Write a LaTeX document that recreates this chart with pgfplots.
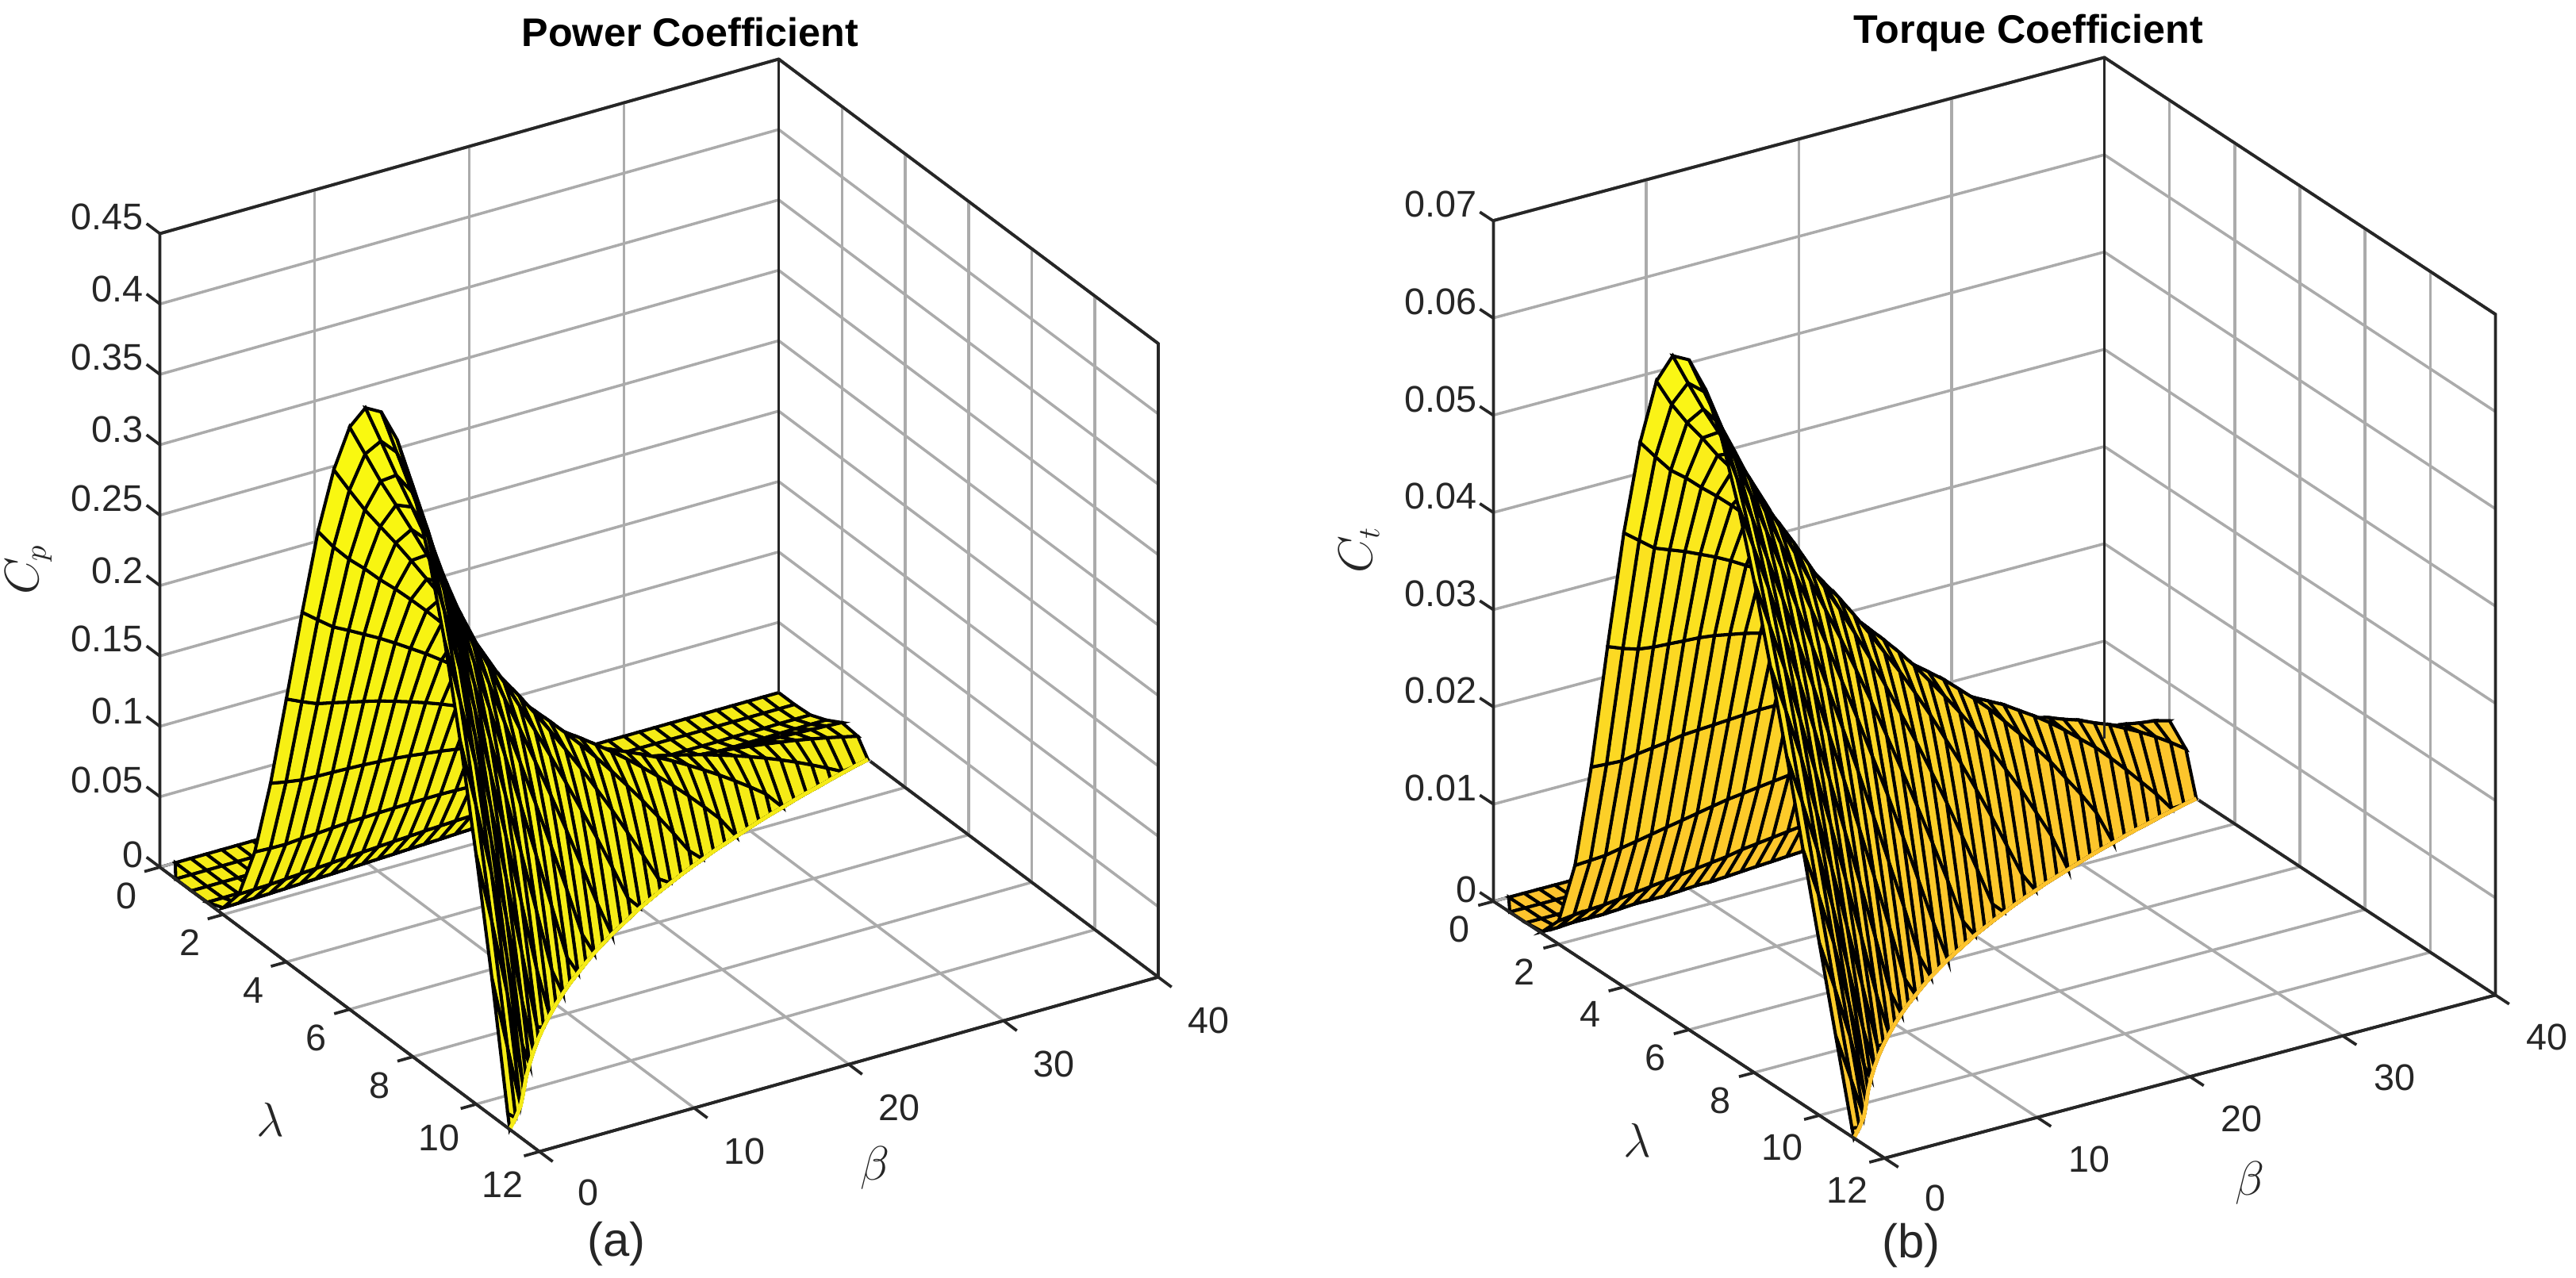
\documentclass[border=0pt]{standalone}
\usepackage{fontspec}
\setmainfont{Liberation Sans}
\usepackage{pgfplots}
\pgfplotsset{compat=1.18}
\definecolor{axcol}{rgb}{0.15,0.15,0.15}
\definecolor{lowl}{RGB}{245,235,22}
\definecolor{lowr}{RGB}{253,195,45}
\pgfplotsset{
  panel/.style={
    disabledatascaling,
    anchor=origin,
    xmin=0,xmax=12,ymin=0,ymax=40,zmin=0,
    xtick={0,2,...,12},ytick={0,10,...,40},
    grid=major,
    major grid style={draw=gray!66,line width=1pt},
    axis line style={draw=axcol,line width=1.05pt},
    tick style={draw=none},
    tick align=outside,
    tick pos=left,
    major tick length=5.6pt,
    scaled ticks=false,
    tick label style={font=\fontsize{13.3}{16}\selectfont,text=axcol},
    yticklabel style={xshift=0.3cm,yshift=-0.08cm},
    zticklabel style={xshift=0.1cm,yshift=0.16cm},
    /pgf/number format/assume math mode=true,
    /pgf/number format/fixed,
    /pgf/number format/precision=2,
    clip=false,
  },
  skin/.style={surf,shader=faceted,z buffer=sort,faceted color=black,line width=1.15pt,mesh/cols=24},
}
\newcommand{\tickmarks}[2]{%
  \pgfplotsinvokeforeach{0,2,...,12}{\draw[axcol,line width=1.05pt] (axis cs:##1,0,0) -- (axis cs:##1,-1,0);}
  \pgfplotsinvokeforeach{0,10,...,40}{\draw[axcol,line width=1.05pt] (axis cs:12,##1,0) -- (axis cs:12.42,##1,0);}
  \pgfplotsinvokeforeach{#1}{\draw[axcol,line width=1.05pt] (axis cs:0,0,##1) -- (axis cs:-0.42,0,##1);}
  \draw[axcol,line width=1.05pt] (axis cs:0,0,0) -- (axis cs:0,0,#2) -- (axis cs:0,40,#2) -- (axis cs:12,40,#2) -- (axis cs:12,40,0) -- (axis cs:12,0,0) -- (axis cs:0,0,0);
  \draw[axcol,line width=1.05pt] (axis cs:0,40,0) -- (axis cs:0,40,#2);
  \draw[axcol,line width=1.05pt] (axis cs:2.9,40,0) -- (axis cs:12,40,0);
}
\begin{document}
\begin{tikzpicture}
\path[use as bounding box] (0,0) rectangle (32.47,16.10);
\begin{axis}[panel,at={(2.015cm,5.169cm)},
  x={(0.3987cm,-0.2988cm)},y={(0.195cm,0.055cm)},z={(0cm,17.747cm)},
  zmax=0.45,ztick={0,0.05,...,0.45},
  colormap={leftmap}{rgb255=(245,235,22) rgb255=(250,250,15)}]
\addplot3[skin] table {
.5 0 0
.5 0 0
1 0 0
1.5 0 .0003
2 0 .0048
2.5 0 .0229
3 0 .0613
3.5 0 .1185
4 0 .1868
4.5 0 .2568
5 0 .3227
5.5 0 .3749
6 0 .4136
6.5 0 .4357
7 0 .4412
7.5 0 .43
8 0 .4036
8.5 0 .364
9 0 .3125
9.5 0 .249
10 0 .177
10.5 0 .0976
11 0 .0101
11.06 0 0
0 1 0
.5 1 0
1 1 0
1.5 1 .0003
2 1 .0051
2.5 1 .0232
3 1 .0608
3.5 1 .1164
4 1 .1818
4.5 1 .2484
5 1 .3086
5.5 1 .3573
6 1 .3914
6.5 1 .409
7 1 .4095
7.5 1 .3945
8 1 .365
8.5 1 .322
9 1 .2666
9.5 1 .201
10 1 .127
10.5 1 .0457
10.76 1 0
10.76 1 0
0 2 0
.5 2 0
1 2 0
1.5 2 .0004
2 2 .0053
2.5 2 .0236
3 2 .0606
3.5 2 .1147
4 2 .1773
4.5 2 .2402
5 2 .2968
5.5 2 .3403
6 2 .369
6.5 2 .3817
7 2 .378
7.5 2 .359
8 2 .3255
8.5 2 .278
9 2 .219
9.5 2 .15
10 2 .0729
10.43 2 0
10.43 2 0
10.43 2 0
0 3 0
.5 3 0
1 3 0
1.5 3 .0004
2 3 .0056
2.5 3 .0243
3 3 .0615
3.5 3 .1142
4 3 .1749
4.5 3 .2347
5 3 .287
5.5 3 .3253
6 3 .349
6.5 3 .356
7 3 .346
7.5 3 .3207
8 3 .2805
8.5 3 .227
9 3 .162
9.5 3 .0875
10 3 .006
10.03 3 0
10.03 3 0
10.03 3 0
0 4 0
.5 4 0
1 4 0
1.5 4 .0005
2 4 .006
2.5 4 .0251
3 4 .062
3.5 4 .1139
4 4 .1722
4.5 4 .2288
5 4 .2761
5.5 4 .3105
6 4 .3286
6.5 4 .3293
7 4 .3133
7.5 4 .281
8 4 .2344
8.5 4 .174
9 4 .103
9.5 4 .0214
9.62 4 0
9.62 4 0
9.62 4 0
9.62 4 0
0 5 0
.5 5 0
1 5 0
1.5 5 .0006
2 5 .0064
2.5 5 .0258
3 5 .0628
3.5 5 .1135
4 5 .1696
4.5 5 .2229
5 5 .2663
5.5 5 .2949
6 5 .3074
6.5 5 .302
7 5 .2795
7.5 5 .2406
8 5 .1868
8.5 5 .12
9 5 .0415
9.24 5 0
9.24 5 0
9.24 5 0
9.24 5 0
9.24 5 0
0 6 0
.5 6 0
1 6 0
1.5 6 .0007
2 6 .0068
2.5 6 .0266
3 6 .0635
3.5 6 .113
4 6 .1668
4.5 6 .2164
5 6 .2557
5.5 6 .2788
6 6 .285
6.5 6 .2738
7 6 .2447
7.5 6 .199
8 6 .1385
8.5 6 .0647
8.88 6 0
8.88 6 0
8.88 6 0
8.88 6 0
8.88 6 0
8.88 6 0
0 7 0
.5 7 0
1 7 0
1.5 7 .0007
2 7 .0071
2.5 7 .0273
3 7 .0639
3.5 7 .1122
4 7 .1635
4.5 7 .2095
5 7 .2446
5.5 7 .2626
6 7 .2628
6.5 7 .2446
7 7 .2087
7.5 7 .1558
8 7 .0884
8.5 7 .0078
8.54 7 0
8.54 7 0
8.54 7 0
8.54 7 0
8.54 7 0
8.54 7 0
0 8 0
.5 8 0
1 8 0
1.5 8 .0008
2 8 .0075
2.5 8 .028
3 8 .0643
3.5 8 .1114
4 8 .16
4.5 8 .2026
5 8 .2329
5.5 8 .2454
6 8 .2392
6.5 8 .2147
7 8 .1722
7.5 8 .1124
8 8 .0375
8.22 8 0
8.22 8 0
8.22 8 0
8.22 8 0
8.22 8 0
8.22 8 0
8.22 8 0
0 9 0
.5 9 0
1 9 0
1.5 9 .0009
2 9 .008
2.5 9 .0287
3 9 .0646
3.5 9 .1102
4 9 .1563
4.5 9 .195
5 9 .2207
5.5 9 .2271
6 9 .2154
6.5 9 .184
7 9 .1345
7.5 9 .0678
7.92 9 0
7.92 9 0
7.92 9 0
7.92 9 0
7.92 9 0
7.92 9 0
7.92 9 0
7.92 9 0
0 10 0
.5 10 0
1 10 0
1.5 10 .001
2 10 .0084
2.5 10 .0294
3 10 .0648
3.5 10 .1087
4 10 .1522
4.5 10 .1871
5 10 .2069
5.5 10 .2084
6 10 .1901
6.5 10 .1528
7 10 .0958
7.5 10 .0221
7.63 10 0
7.63 10 0
7.63 10 0
7.63 10 0
7.63 10 0
7.63 10 0
7.63 10 0
7.63 10 0
0 11 0
.5 11 0
1 11 0
1.5 11 .0011
2 11 .0088
2.5 11 .0299
3 11 .065
3.5 11 .1073
4 11 .1478
4.5 11 .1786
5 11 .1937
5.5 11 .1899
6 11 .1652
6.5 11 .1204
7 11 .0565
7.36 11 0
7.36 11 0
7.36 11 0
7.36 11 0
7.36 11 0
7.36 11 0
7.36 11 0
7.36 11 0
7.36 11 0
0 12 0
.5 12 0
1 12 0
1.5 12 .0012
2 12 .0093
2.5 12 .0306
3 12 .0651
3.5 12 .1055
4 12 .1432
4.5 12 .1698
5 12 .1799
5.5 12 .1699
6 12 .1387
6.5 12 .0871
7 12 .0167
7.1 12 0
7.1 12 0
7.1 12 0
7.1 12 0
7.1 12 0
7.1 12 0
7.1 12 0
7.1 12 0
7.1 12 0
0 13 0
.5 13 0
1 13 0
1.5 13 .0014
2 13 .0097
2.5 13 .0311
3 13 .0648
3.5 13 .1036
4 13 .1383
4.5 13 .1607
5 13 .1655
5.5 13 .1495
6 13 .1119
6.5 13 .0537
6.86 13 0
6.86 13 0
6.86 13 0
6.86 13 0
6.86 13 0
6.86 13 0
6.86 13 0
6.86 13 0
6.86 13 0
6.86 13 0
0 14 0
.5 14 0
1 14 0
1.5 14 .0015
2 14 .0101
2.5 14 .0316
3 14 .0645
3.5 14 .1013
4 14 .1327
4.5 14 .1508
5 14 .1503
5.5 14 .1282
6 14 .0842
6.5 14 .0184
6.62 14 0
6.62 14 0
6.62 14 0
6.62 14 0
6.62 14 0
6.62 14 0
6.62 14 0
6.62 14 0
6.62 14 0
6.62 14 0
0 15 0
.5 15 0
1 15 0
1.5 15 .0016
2 15 .0106
2.5 15 .032
3 15 .0641
3.5 15 .099
4 15 .1271
4.5 15 .1406
5 15 .1346
5.5 15 .1062
6 15 .0554
6.39 15 0
6.39 15 0
6.39 15 0
6.39 15 0
6.39 15 0
6.39 15 0
6.39 15 0
6.39 15 0
6.39 15 0
6.39 15 0
6.39 15 0
0 16 0
.5 16 0
1 16 .0001
1.5 16 .0018
2 16 .011
2.5 16 .0324
3 16 .0636
3.5 16 .0961
4 16 .1208
4.5 16 .1298
5 16 .1182
5.5 16 .0837
6 16 .0258
6.18 16 0
6.18 16 0
6.18 16 0
6.18 16 0
6.18 16 0
6.18 16 0
6.18 16 0
6.18 16 0
6.18 16 0
6.18 16 0
6.18 16 0
0 17 0
.5 17 0
1 17 .0001
1.5 17 .0019
2 17 .0114
2.5 17 .0328
3 17 .063
3.5 17 .0933
4 17 .1144
4.5 17 .1186
5 17 .1016
5.5 17 .0607
5.97 17 0
5.97 17 0
5.97 17 0
5.97 17 0
5.97 17 0
5.97 17 0
5.97 17 0
5.97 17 0
5.97 17 0
5.97 17 0
5.97 17 0
5.97 17 0
0 18 0
.5 18 0
1 18 .0001
1.5 18 .0021
2 18 .0118
2.5 18 .033
3 18 .0622
3.5 18 .0901
4 18 .1075
4.5 18 .107
5 18 .084
5.5 18 .0367
5.78 18 0
5.78 18 0
5.78 18 0
5.78 18 0
5.78 18 0
5.78 18 0
5.78 18 0
5.78 18 0
5.78 18 0
5.78 18 0
5.78 18 0
5.78 18 0
0 19 0
.5 19 0
1 19 .0001
1.5 19 .0022
2 19 .0122
2.5 19 .0332
3 19 .0612
3.5 19 .0867
4 19 .1002
4.5 19 .0948
5 19 .066
5.5 19 .0118
5.59 19 0
5.59 19 0
5.59 19 0
5.59 19 0
5.59 19 0
5.59 19 0
5.59 19 0
5.59 19 0
5.59 19 0
5.59 19 0
5.59 19 0
5.59 19 0
0 20 0
.5 20 0
1 20 .0001
1.5 20 .0024
2 20 .0126
2.5 20 .0333
3 20 .06
3.5 20 .0828
4 20 .0925
4.5 20 .082
5 20 .0469
5.4 20 0
5.4 20 0
5.4 20 0
5.4 20 0
5.4 20 0
5.4 20 0
5.4 20 0
5.4 20 0
5.4 20 0
5.4 20 0
5.4 20 0
5.4 20 0
5.4 20 0
0 21 0
.5 21 0
1 21 .0002
1.5 21 .0026
2 21 .013
2.5 21 .0335
3 21 .0587
3.5 21 .0788
4 21 .0844
4.5 21 .0687
5 21 .0277
5.23 21 0
5.23 21 0
5.23 21 0
5.23 21 0
5.23 21 0
5.23 21 0
5.23 21 0
5.23 21 0
5.23 21 0
5.23 21 0
5.23 21 0
5.23 21 0
5.23 21 0
0 22 0
.5 22 0
1 22 .0002
1.5 22 .0028
2 22 .0134
2.5 22 .0335
3 22 .0571
3.5 22 .0744
4 22 .076
4.5 22 .0549
5 22 .0077
5.06 22 0
5.06 22 0
5.06 22 0
5.06 22 0
5.06 22 0
5.06 22 0
5.06 22 0
5.06 22 0
5.06 22 0
5.06 22 0
5.06 22 0
5.06 22 0
5.06 22 0
0 23 0
.5 23 0
1 23 .0002
1.5 23 .003
2 23 .0137
2.5 23 .0333
3 23 .0553
3.5 23 .0696
4 23 .067
4.5 23 .0404
4.9 23 0
4.9 23 0
4.9 23 0
4.9 23 0
4.9 23 0
4.9 23 0
4.9 23 0
4.9 23 0
4.9 23 0
4.9 23 0
4.9 23 0
4.9 23 0
4.9 23 0
4.9 23 0
0 24 0
.5 24 0
1 24 .0002
1.5 24 .0032
2 24 .014
2.5 24 .0331
3 24 .0534
3.5 24 .0647
4 24 .0576
4.5 24 .0254
4.74 24 0
4.74 24 0
4.74 24 0
4.74 24 0
4.74 24 0
4.74 24 0
4.74 24 0
4.74 24 0
4.74 24 0
4.74 24 0
4.74 24 0
4.74 24 0
4.74 24 0
4.74 24 0
0 25 0
.5 25 0
1 25 .0002
1.5 25 .0034
2 25 .0143
2.5 25 .0327
3 25 .0512
3.5 25 .0594
4 25 .0477
4.5 25 .0099
4.59 25 0
4.59 25 0
4.59 25 0
4.59 25 0
4.59 25 0
4.59 25 0
4.59 25 0
4.59 25 0
4.59 25 0
4.59 25 0
4.59 25 0
4.59 25 0
4.59 25 0
4.59 25 0
0 26 0
.5 26 0
1 26 .0003
1.5 26 .0036
2 26 .0145
2.5 26 .0323
3 26 .049
3.5 26 .0537
4 26 .0374
4.45 26 0
4.45 26 0
4.45 26 0
4.45 26 0
4.45 26 0
4.45 26 0
4.45 26 0
4.45 26 0
4.45 26 0
4.45 26 0
4.45 26 0
4.45 26 0
4.45 26 0
4.45 26 0
4.45 26 0
0 27 0
.5 27 0
1 27 .0003
1.5 27 .0038
2 27 .0147
2.5 27 .0318
3 27 .0464
3.5 27 .0477
4 27 .0265
4.3 27 0
4.3 27 0
4.3 27 0
4.3 27 0
4.3 27 0
4.3 27 0
4.3 27 0
4.3 27 0
4.3 27 0
4.3 27 0
4.3 27 0
4.3 27 0
4.3 27 0
4.3 27 0
4.3 27 0
0 28 0
.5 28 0
1 28 .0003
1.5 28 .004
2 28 .0149
2.5 28 .0312
3 28 .0435
3.5 28 .0412
4 28 .0151
4.17 28 0
4.17 28 0
4.17 28 0
4.17 28 0
4.17 28 0
4.17 28 0
4.17 28 0
4.17 28 0
4.17 28 0
4.17 28 0
4.17 28 0
4.17 28 0
4.17 28 0
4.17 28 0
4.17 28 0
0 29 0
.5 29 0
1 29 .0005
1.5 29 .0042
2 29 .0151
2.5 29 .0302
3 29 .0405
3.5 29 .0345
4.04 29 0
4.04 29 0
4.04 29 0
4.04 29 0
4.04 29 0
4.04 29 0
4.04 29 0
4.04 29 0
4.04 29 0
4.04 29 0
4.04 29 0
4.04 29 0
4.04 29 0
4.04 29 0
4.04 29 0
4.04 29 0
0 30 0
.5 30 0
1 30 .0005
1.5 30 .0044
2 30 .0151
2.5 30 .0294
3 30 .0371
3.5 30 .0273
3.91 30 0
3.91 30 0
3.91 30 0
3.91 30 0
3.91 30 0
3.91 30 0
3.91 30 0
3.91 30 0
3.91 30 0
3.91 30 0
3.91 30 0
3.91 30 0
3.91 30 0
3.91 30 0
3.91 30 0
3.91 30 0
0 31 0
.5 31 0
1 31 .0005
1.5 31 .0046
2 31 .0152
2.5 31 .0284
3 31 .0336
3.5 31 .0198
3.78 31 0
3.78 31 0
3.78 31 0
3.78 31 0
3.78 31 0
3.78 31 0
3.78 31 0
3.78 31 0
3.78 31 0
3.78 31 0
3.78 31 0
3.78 31 0
3.78 31 0
3.78 31 0
3.78 31 0
3.78 31 0
0 32 0
.5 32 0
1 32 .0006
1.5 32 .0048
2 32 .0152
2.5 32 .027
3 32 .0298
3.5 32 .0118
3.66 32 0
3.66 32 0
3.66 32 0
3.66 32 0
3.66 32 0
3.66 32 0
3.66 32 0
3.66 32 0
3.66 32 0
3.66 32 0
3.66 32 0
3.66 32 0
3.66 32 0
3.66 32 0
3.66 32 0
3.66 32 0
0 33 0
.5 33 0
1 33 .0006
1.5 33 .005
2 33 .0151
2.5 33 .0257
3 33 .0257
3.55 33 0
3.55 33 0
3.55 33 0
3.55 33 0
3.55 33 0
3.55 33 0
3.55 33 0
3.55 33 0
3.55 33 0
3.55 33 0
3.55 33 0
3.55 33 0
3.55 33 0
3.55 33 0
3.55 33 0
3.55 33 0
3.55 33 0
0 34 0
.5 34 0
1 34 .0006
1.5 34 .0052
2 34 .0149
2.5 34 .0241
3 34 .0213
3.43 34 0
3.43 34 0
3.43 34 0
3.43 34 0
3.43 34 0
3.43 34 0
3.43 34 0
3.43 34 0
3.43 34 0
3.43 34 0
3.43 34 0
3.43 34 0
3.43 34 0
3.43 34 0
3.43 34 0
3.43 34 0
3.43 34 0
0 35 0
.5 35 0
1 35 .0008
1.5 35 .0053
2 35 .0147
2.5 35 .0224
3 35 .0166
3.32 35 0
3.32 35 0
3.32 35 0
3.32 35 0
3.32 35 0
3.32 35 0
3.32 35 0
3.32 35 0
3.32 35 0
3.32 35 0
3.32 35 0
3.32 35 0
3.32 35 0
3.32 35 0
3.32 35 0
3.32 35 0
3.32 35 0
0 36 0
.5 36 0
1 36 .0008
1.5 36 .0054
2 36 .0144
2.5 36 .0206
3 36 .0115
3.22 36 0
3.22 36 0
3.22 36 0
3.22 36 0
3.22 36 0
3.22 36 0
3.22 36 0
3.22 36 0
3.22 36 0
3.22 36 0
3.22 36 0
3.22 36 0
3.22 36 0
3.22 36 0
3.22 36 0
3.22 36 0
3.22 36 0
0 37 0
.5 37 0
1 37 .0008
1.5 37 .0056
2 37 .0141
2.5 37 .0185
3 37 .0062
3.11 37 0
3.11 37 0
3.11 37 0
3.11 37 0
3.11 37 0
3.11 37 0
3.11 37 0
3.11 37 0
3.11 37 0
3.11 37 0
3.11 37 0
3.11 37 0
3.11 37 0
3.11 37 0
3.11 37 0
3.11 37 0
3.11 37 0
0 38 0
.5 38 0
1 38 .001
1.5 38 .0057
2 38 .0136
2.5 38 .0162
3 38 .0006
3.01 38 0
3.01 38 0
3.01 38 0
3.01 38 0
3.01 38 0
3.01 38 0
3.01 38 0
3.01 38 0
3.01 38 0
3.01 38 0
3.01 38 0
3.01 38 0
3.01 38 0
3.01 38 0
3.01 38 0
3.01 38 0
3.01 38 0
0 39 0
.5 39 0
1 39 .001
1.5 39 .0058
2 39 .0131
2.5 39 .0137
2.91 39 0
2.91 39 0
2.91 39 0
2.91 39 0
2.91 39 0
2.91 39 0
2.91 39 0
2.91 39 0
2.91 39 0
2.91 39 0
2.91 39 0
2.91 39 0
2.91 39 0
2.91 39 0
2.91 39 0
2.91 39 0
2.91 39 0
2.91 39 0
0 40 0
.5 40 0
1 40 .001
1.5 40 .0058
2 40 .0124
2.5 40 .0111
2.82 40 0
2.82 40 0
2.82 40 0
2.82 40 0
2.82 40 0
2.82 40 0
2.82 40 0
2.82 40 0
2.82 40 0
2.82 40 0
2.82 40 0
2.82 40 0
2.82 40 0
2.82 40 0
2.82 40 0
2.82 40 0
2.82 40 0
2.82 40 0
};
\addplot3[lowl,line width=1.4pt] coordinates {(11.06,0,0)(10.76,1,0)(10.43,2,0)(10.03,3,0)(9.62,4,0)(9.24,5,0)(8.88,6,0)(8.54,7,0)(8.22,8,0)(7.92,9,0)(7.63,10,0)(7.36,11,0)(7.1,12,0)(6.86,13,0)(6.62,14,0)(6.39,15,0)(6.18,16,0)(5.97,17,0)(5.78,18,0)(5.59,19,0)(5.4,20,0)(5.23,21,0)(5.06,22,0)(4.9,23,0)(4.74,24,0)(4.59,25,0)(4.45,26,0)(4.3,27,0)(4.17,28,0)(4.04,29,0)(3.91,30,0)(3.78,31,0)(3.66,32,0)(3.55,33,0)(3.43,34,0)(3.32,35,0)(3.22,36,0)(3.11,37,0)(3.01,38,0)(2.91,39,0)(2.82,40,0)};
\tickmarks{0,0.05,...,0.45}{0.45}
\end{axis}
\begin{axis}[panel,at={(18.825cm,4.738cm)},
  x={(0.4108cm,-0.2698cm)},y={(0.1925cm,0.0514cm)},z={(0cm,122.58cm)},
  zmax=0.07,ztick={0,0.01,...,0.07},
  colormap={rightmap}{rgb255=(253,195,45) rgb255=(250,250,20)}]
\addplot3[skin] table {
.5 0 0
.5 0 0
1 0 0
1.5 0 .0002
2 0 .0024
2.5 0 .0092
3 0 .0204
3.5 0 .0339
4 0 .0467
4.5 0 .0571
5 0 .0645
5.5 0 .0682
6 0 .0689
6.5 0 .067
7 0 .063
7.5 0 .0573
8 0 .0505
8.5 0 .0428
9 0 .0347
9.5 0 .0262
10 0 .0177
10.5 0 .0093
11 0 .0009
11.06 0 0
0 1 0
.5 1 0
1 1 0
1.5 1 .0002
2 1 .0026
2.5 1 .0093
3 1 .0203
3.5 1 .0333
4 1 .0455
4.5 1 .0552
5 1 .0617
5.5 1 .065
6 1 .0652
6.5 1 .0629
7 1 .0585
7.5 1 .0526
8 1 .0456
8.5 1 .0379
9 1 .0296
9.5 1 .0212
10 1 .0127
10.5 1 .0044
10.76 1 0
10.76 1 0
0 2 0
.5 2 0
1 2 0
1.5 2 .0003
2 2 .0027
2.5 2 .0094
3 2 .0202
3.5 2 .0328
4 2 .0443
4.5 2 .0534
5 2 .0594
5.5 2 .0619
6 2 .0615
6.5 2 .0587
7 2 .054
7.5 2 .0479
8 2 .0407
8.5 2 .0327
9 2 .0243
9.5 2 .0158
10 2 .0073
10.43 2 0
10.43 2 0
10.43 2 0
0 3 0
.5 3 0
1 3 0
1.5 3 .0003
2 3 .0028
2.5 3 .0097
3 3 .0205
3.5 3 .0326
4 3 .0437
4.5 3 .0522
5 3 .0574
5.5 3 .0591
6 3 .0582
6.5 3 .0548
7 3 .0494
7.5 3 .0428
8 3 .0351
8.5 3 .0267
9 3 .018
9.5 3 .0092
10 3 .0006
10.03 3 0
10.03 3 0
10.03 3 0
0 4 0
.5 4 0
1 4 0
1.5 4 .0003
2 4 .003
2.5 4 .01
3 4 .0207
3.5 4 .0325
4 4 .0431
4.5 4 .0508
5 4 .0552
5.5 4 .0565
6 4 .0548
6.5 4 .0507
7 4 .0448
7.5 4 .0375
8 4 .0293
8.5 4 .0205
9 4 .0114
9.5 4 .0023
9.62 4 0
9.62 4 0
9.62 4 0
9.62 4 0
0 5 0
.5 5 0
1 5 0
1.5 5 .0004
2 5 .0032
2.5 5 .0103
3 5 .0209
3.5 5 .0324
4 5 .0424
4.5 5 .0495
5 5 .0533
5.5 5 .0536
6 5 .0512
6.5 5 .0465
7 5 .0399
7.5 5 .0321
8 5 .0234
8.5 5 .0141
9 5 .0046
9.24 5 0
9.24 5 0
9.24 5 0
9.24 5 0
9.24 5 0
0 6 0
.5 6 0
1 6 0
1.5 6 .0005
2 6 .0034
2.5 6 .0106
3 6 .0212
3.5 6 .0323
4 6 .0417
4.5 6 .0481
5 6 .0511
5.5 6 .0507
6 6 .0475
6.5 6 .0421
7 6 .035
7.5 6 .0265
8 6 .0173
8.5 6 .0076
8.88 6 0
8.88 6 0
8.88 6 0
8.88 6 0
8.88 6 0
8.88 6 0
0 7 0
.5 7 0
1 7 0
1.5 7 .0005
2 7 .0036
2.5 7 .0109
3 7 .0213
3.5 7 .0321
4 7 .0409
4.5 7 .0466
5 7 .0489
5.5 7 .0477
6 7 .0438
6.5 7 .0376
7 7 .0298
7.5 7 .0208
8 7 .0111
8.5 7 .0009
8.54 7 0
8.54 7 0
8.54 7 0
8.54 7 0
8.54 7 0
8.54 7 0
0 8 0
.5 8 0
1 8 0
1.5 8 .0005
2 8 .0038
2.5 8 .0112
3 8 .0214
3.5 8 .0318
4 8 .04
4.5 8 .045
5 8 .0466
5.5 8 .0446
6 8 .0399
6.5 8 .033
7 8 .0246
7.5 8 .015
8 8 .0047
8.22 8 0
8.22 8 0
8.22 8 0
8.22 8 0
8.22 8 0
8.22 8 0
8.22 8 0
0 9 0
.5 9 0
1 9 0
1.5 9 .0006
2 9 .004
2.5 9 .0115
3 9 .0215
3.5 9 .0315
4 9 .0391
4.5 9 .0433
5 9 .0441
5.5 9 .0413
6 9 .0359
6.5 9 .0283
7 9 .0192
7.5 9 .009
7.92 9 0
7.92 9 0
7.92 9 0
7.92 9 0
7.92 9 0
7.92 9 0
7.92 9 0
7.92 9 0
0 10 0
.5 10 0
1 10 0
1.5 10 .0007
2 10 .0042
2.5 10 .0118
3 10 .0216
3.5 10 .0311
4 10 .0381
4.5 10 .0416
5 10 .0414
5.5 10 .0379
6 10 .0317
6.5 10 .0235
7 10 .0137
7.5 10 .0029
7.63 10 0
7.63 10 0
7.63 10 0
7.63 10 0
7.63 10 0
7.63 10 0
7.63 10 0
7.63 10 0
0 11 0
.5 11 0
1 11 0
1.5 11 .0007
2 11 .0044
2.5 11 .012
3 11 .0217
3.5 11 .0307
4 11 .037
4.5 11 .0397
5 11 .0387
5.5 11 .0345
6 11 .0275
6.5 11 .0185
7 11 .0081
7.36 11 0
7.36 11 0
7.36 11 0
7.36 11 0
7.36 11 0
7.36 11 0
7.36 11 0
7.36 11 0
7.36 11 0
0 12 0
.5 12 0
1 12 0
1.5 12 .0008
2 12 .0047
2.5 12 .0122
3 12 .0217
3.5 12 .0301
4 12 .0358
4.5 12 .0377
5 12 .036
5.5 12 .0309
6 12 .0231
6.5 12 .0134
7 12 .0024
7.1 12 0
7.1 12 0
7.1 12 0
7.1 12 0
7.1 12 0
7.1 12 0
7.1 12 0
7.1 12 0
7.1 12 0
0 13 0
.5 13 0
1 13 0
1.5 13 .0009
2 13 .0049
2.5 13 .0124
3 13 .0216
3.5 13 .0296
4 13 .0346
4.5 13 .0357
5 13 .0331
5.5 13 .0272
6 13 .0187
6.5 13 .0083
6.86 13 0
6.86 13 0
6.86 13 0
6.86 13 0
6.86 13 0
6.86 13 0
6.86 13 0
6.86 13 0
6.86 13 0
6.86 13 0
0 14 0
.5 14 0
1 14 0
1.5 14 .001
2 14 .0051
2.5 14 .0126
3 14 .0215
3.5 14 .0289
4 14 .0332
4.5 14 .0335
5 14 .0301
5.5 14 .0233
6 14 .014
6.5 14 .0028
6.62 14 0
6.62 14 0
6.62 14 0
6.62 14 0
6.62 14 0
6.62 14 0
6.62 14 0
6.62 14 0
6.62 14 0
6.62 14 0
0 15 0
.5 15 0
1 15 0
1.5 15 .0011
2 15 .0053
2.5 15 .0128
3 15 .0214
3.5 15 .0283
4 15 .0318
4.5 15 .0312
5 15 .0269
5.5 15 .0193
6 15 .0092
6.39 15 0
6.39 15 0
6.39 15 0
6.39 15 0
6.39 15 0
6.39 15 0
6.39 15 0
6.39 15 0
6.39 15 0
6.39 15 0
6.39 15 0
0 16 0
.5 16 0
1 16 .0001
1.5 16 .0012
2 16 .0055
2.5 16 .013
3 16 .0212
3.5 16 .0275
4 16 .0302
4.5 16 .0288
5 16 .0236
5.5 16 .0152
6 16 .0043
6.18 16 0
6.18 16 0
6.18 16 0
6.18 16 0
6.18 16 0
6.18 16 0
6.18 16 0
6.18 16 0
6.18 16 0
6.18 16 0
6.18 16 0
0 17 0
.5 17 0
1 17 .0001
1.5 17 .0013
2 17 .0057
2.5 17 .0131
3 17 .021
3.5 17 .0267
4 17 .0286
4.5 17 .0264
5 17 .0203
5.5 17 .011
5.97 17 0
5.97 17 0
5.97 17 0
5.97 17 0
5.97 17 0
5.97 17 0
5.97 17 0
5.97 17 0
5.97 17 0
5.97 17 0
5.97 17 0
5.97 17 0
0 18 0
.5 18 0
1 18 .0001
1.5 18 .0014
2 18 .0059
2.5 18 .0132
3 18 .0207
3.5 18 .0257
4 18 .0269
4.5 18 .0238
5 18 .0168
5.5 18 .0067
5.78 18 0
5.78 18 0
5.78 18 0
5.78 18 0
5.78 18 0
5.78 18 0
5.78 18 0
5.78 18 0
5.78 18 0
5.78 18 0
5.78 18 0
5.78 18 0
0 19 0
.5 19 0
1 19 .0001
1.5 19 .0015
2 19 .0061
2.5 19 .0133
3 19 .0204
3.5 19 .0248
4 19 .0251
4.5 19 .0211
5 19 .0132
5.5 19 .0021
5.59 19 0
5.59 19 0
5.59 19 0
5.59 19 0
5.59 19 0
5.59 19 0
5.59 19 0
5.59 19 0
5.59 19 0
5.59 19 0
5.59 19 0
5.59 19 0
0 20 0
.5 20 0
1 20 .0001
1.5 20 .0016
2 20 .0063
2.5 20 .0133
3 20 .02
3.5 20 .0237
4 20 .0231
4.5 20 .0182
5 20 .0094
5.4 20 0
5.4 20 0
5.4 20 0
5.4 20 0
5.4 20 0
5.4 20 0
5.4 20 0
5.4 20 0
5.4 20 0
5.4 20 0
5.4 20 0
5.4 20 0
5.4 20 0
0 21 0
.5 21 0
1 21 .0002
1.5 21 .0017
2 21 .0065
2.5 21 .0134
3 21 .0196
3.5 21 .0225
4 21 .0211
4.5 21 .0153
5 21 .0055
5.23 21 0
5.23 21 0
5.23 21 0
5.23 21 0
5.23 21 0
5.23 21 0
5.23 21 0
5.23 21 0
5.23 21 0
5.23 21 0
5.23 21 0
5.23 21 0
5.23 21 0
0 22 0
.5 22 0
1 22 .0002
1.5 22 .0019
2 22 .0067
2.5 22 .0134
3 22 .019
3.5 22 .0213
4 22 .019
4.5 22 .0122
5 22 .0015
5.06 22 0
5.06 22 0
5.06 22 0
5.06 22 0
5.06 22 0
5.06 22 0
5.06 22 0
5.06 22 0
5.06 22 0
5.06 22 0
5.06 22 0
5.06 22 0
5.06 22 0
0 23 0
.5 23 0
1 23 .0002
1.5 23 .002
2 23 .0069
2.5 23 .0133
3 23 .0184
3.5 23 .0199
4 23 .0168
4.5 23 .009
4.9 23 0
4.9 23 0
4.9 23 0
4.9 23 0
4.9 23 0
4.9 23 0
4.9 23 0
4.9 23 0
4.9 23 0
4.9 23 0
4.9 23 0
4.9 23 0
4.9 23 0
4.9 23 0
0 24 0
.5 24 0
1 24 .0002
1.5 24 .0021
2 24 .007
2.5 24 .0132
3 24 .0178
3.5 24 .0185
4 24 .0144
4.5 24 .0056
4.74 24 0
4.74 24 0
4.74 24 0
4.74 24 0
4.74 24 0
4.74 24 0
4.74 24 0
4.74 24 0
4.74 24 0
4.74 24 0
4.74 24 0
4.74 24 0
4.74 24 0
4.74 24 0
0 25 0
.5 25 0
1 25 .0002
1.5 25 .0023
2 25 .0072
2.5 25 .0131
3 25 .0171
3.5 25 .017
4 25 .0119
4.5 25 .0022
4.59 25 0
4.59 25 0
4.59 25 0
4.59 25 0
4.59 25 0
4.59 25 0
4.59 25 0
4.59 25 0
4.59 25 0
4.59 25 0
4.59 25 0
4.59 25 0
4.59 25 0
4.59 25 0
0 26 0
.5 26 0
1 26 .0003
1.5 26 .0024
2 26 .0073
2.5 26 .0129
3 26 .0163
3.5 26 .0153
4 26 .0094
4.45 26 0
4.45 26 0
4.45 26 0
4.45 26 0
4.45 26 0
4.45 26 0
4.45 26 0
4.45 26 0
4.45 26 0
4.45 26 0
4.45 26 0
4.45 26 0
4.45 26 0
4.45 26 0
4.45 26 0
0 27 0
.5 27 0
1 27 .0003
1.5 27 .0025
2 27 .0074
2.5 27 .0127
3 27 .0155
3.5 27 .0136
4 27 .0066
4.3 27 0
4.3 27 0
4.3 27 0
4.3 27 0
4.3 27 0
4.3 27 0
4.3 27 0
4.3 27 0
4.3 27 0
4.3 27 0
4.3 27 0
4.3 27 0
4.3 27 0
4.3 27 0
4.3 27 0
0 28 0
.5 28 0
1 28 .0003
1.5 28 .0027
2 28 .0075
2.5 28 .0125
3 28 .0145
3.5 28 .0118
4 28 .0038
4.17 28 0
4.17 28 0
4.17 28 0
4.17 28 0
4.17 28 0
4.17 28 0
4.17 28 0
4.17 28 0
4.17 28 0
4.17 28 0
4.17 28 0
4.17 28 0
4.17 28 0
4.17 28 0
4.17 28 0
0 29 0
.5 29 0
1 29 .0005
1.5 29 .0028
2 29 .0076
2.5 29 .0121
3 29 .0135
3.5 29 .0099
4.04 29 0
4.04 29 0
4.04 29 0
4.04 29 0
4.04 29 0
4.04 29 0
4.04 29 0
4.04 29 0
4.04 29 0
4.04 29 0
4.04 29 0
4.04 29 0
4.04 29 0
4.04 29 0
4.04 29 0
4.04 29 0
0 30 0
.5 30 0
1 30 .0005
1.5 30 .0029
2 30 .0076
2.5 30 .0118
3 30 .0124
3.5 30 .0078
3.91 30 0
3.91 30 0
3.91 30 0
3.91 30 0
3.91 30 0
3.91 30 0
3.91 30 0
3.91 30 0
3.91 30 0
3.91 30 0
3.91 30 0
3.91 30 0
3.91 30 0
3.91 30 0
3.91 30 0
3.91 30 0
0 31 0
.5 31 0
1 31 .0005
1.5 31 .0031
2 31 .0076
2.5 31 .0114
3 31 .0112
3.5 31 .0057
3.78 31 0
3.78 31 0
3.78 31 0
3.78 31 0
3.78 31 0
3.78 31 0
3.78 31 0
3.78 31 0
3.78 31 0
3.78 31 0
3.78 31 0
3.78 31 0
3.78 31 0
3.78 31 0
3.78 31 0
3.78 31 0
0 32 0
.5 32 0
1 32 .0006
1.5 32 .0032
2 32 .0076
2.5 32 .0108
3 32 .0099
3.5 32 .0034
3.66 32 0
3.66 32 0
3.66 32 0
3.66 32 0
3.66 32 0
3.66 32 0
3.66 32 0
3.66 32 0
3.66 32 0
3.66 32 0
3.66 32 0
3.66 32 0
3.66 32 0
3.66 32 0
3.66 32 0
3.66 32 0
0 33 0
.5 33 0
1 33 .0006
1.5 33 .0033
2 33 .0076
2.5 33 .0103
3 33 .0086
3.55 33 0
3.55 33 0
3.55 33 0
3.55 33 0
3.55 33 0
3.55 33 0
3.55 33 0
3.55 33 0
3.55 33 0
3.55 33 0
3.55 33 0
3.55 33 0
3.55 33 0
3.55 33 0
3.55 33 0
3.55 33 0
3.55 33 0
0 34 0
.5 34 0
1 34 .0006
1.5 34 .0035
2 34 .0075
2.5 34 .0096
3 34 .0071
3.43 34 0
3.43 34 0
3.43 34 0
3.43 34 0
3.43 34 0
3.43 34 0
3.43 34 0
3.43 34 0
3.43 34 0
3.43 34 0
3.43 34 0
3.43 34 0
3.43 34 0
3.43 34 0
3.43 34 0
3.43 34 0
3.43 34 0
0 35 0
.5 35 0
1 35 .0008
1.5 35 .0035
2 35 .0074
2.5 35 .009
3 35 .0055
3.32 35 0
3.32 35 0
3.32 35 0
3.32 35 0
3.32 35 0
3.32 35 0
3.32 35 0
3.32 35 0
3.32 35 0
3.32 35 0
3.32 35 0
3.32 35 0
3.32 35 0
3.32 35 0
3.32 35 0
3.32 35 0
3.32 35 0
0 36 0
.5 36 0
1 36 .0008
1.5 36 .0036
2 36 .0072
2.5 36 .0082
3 36 .0038
3.22 36 0
3.22 36 0
3.22 36 0
3.22 36 0
3.22 36 0
3.22 36 0
3.22 36 0
3.22 36 0
3.22 36 0
3.22 36 0
3.22 36 0
3.22 36 0
3.22 36 0
3.22 36 0
3.22 36 0
3.22 36 0
3.22 36 0
0 37 0
.5 37 0
1 37 .0008
1.5 37 .0037
2 37 .0071
2.5 37 .0074
3 37 .0021
3.11 37 0
3.11 37 0
3.11 37 0
3.11 37 0
3.11 37 0
3.11 37 0
3.11 37 0
3.11 37 0
3.11 37 0
3.11 37 0
3.11 37 0
3.11 37 0
3.11 37 0
3.11 37 0
3.11 37 0
3.11 37 0
3.11 37 0
0 38 0
.5 38 0
1 38 .001
1.5 38 .0038
2 38 .0068
2.5 38 .0065
3 38 .0002
3.01 38 0
3.01 38 0
3.01 38 0
3.01 38 0
3.01 38 0
3.01 38 0
3.01 38 0
3.01 38 0
3.01 38 0
3.01 38 0
3.01 38 0
3.01 38 0
3.01 38 0
3.01 38 0
3.01 38 0
3.01 38 0
3.01 38 0
0 39 0
.5 39 0
1 39 .001
1.5 39 .0039
2 39 .0066
2.5 39 .0055
2.91 39 0
2.91 39 0
2.91 39 0
2.91 39 0
2.91 39 0
2.91 39 0
2.91 39 0
2.91 39 0
2.91 39 0
2.91 39 0
2.91 39 0
2.91 39 0
2.91 39 0
2.91 39 0
2.91 39 0
2.91 39 0
2.91 39 0
2.91 39 0
0 40 0
.5 40 0
1 40 .001
1.5 40 .0039
2 40 .0062
2.5 40 .0044
2.82 40 0
2.82 40 0
2.82 40 0
2.82 40 0
2.82 40 0
2.82 40 0
2.82 40 0
2.82 40 0
2.82 40 0
2.82 40 0
2.82 40 0
2.82 40 0
2.82 40 0
2.82 40 0
2.82 40 0
2.82 40 0
2.82 40 0
2.82 40 0
};
\addplot3[lowr,line width=1.4pt] coordinates {(11.06,0,0)(10.76,1,0)(10.43,2,0)(10.03,3,0)(9.62,4,0)(9.24,5,0)(8.88,6,0)(8.54,7,0)(8.22,8,0)(7.92,9,0)(7.63,10,0)(7.36,11,0)(7.1,12,0)(6.86,13,0)(6.62,14,0)(6.39,15,0)(6.18,16,0)(5.97,17,0)(5.78,18,0)(5.59,19,0)(5.4,20,0)(5.23,21,0)(5.06,22,0)(4.9,23,0)(4.74,24,0)(4.59,25,0)(4.45,26,0)(4.3,27,0)(4.17,28,0)(4.04,29,0)(3.91,30,0)(3.78,31,0)(3.66,32,0)(3.55,33,0)(3.43,34,0)(3.32,35,0)(3.22,36,0)(3.11,37,0)(3.01,38,0)(2.91,39,0)(2.82,40,0)};
\tickmarks{0,0.01,...,0.07}{0.07}
\end{axis}
\node[font=\fontsize{14.3}{16}\selectfont\bfseries] at (8.70,15.69) {Power Coefficient};
\node[font=\fontsize{14.3}{16}\selectfont\bfseries] at (25.57,15.68) {Torque Coefficient};
\node[font=\fontsize{17}{20}\selectfont,text=axcol] at (7.77,0.42) {(a)};
\node[font=\fontsize{17}{20}\selectfont,text=axcol] at (24.09,0.40) {(b)};
\node[font=\fontsize{16}{20}\selectfont,text=axcol] at (3.41,1.99) {$\lambda$};
\node[font=\fontsize{16}{20}\selectfont,text=axcol] at (11.03,1.38) {$\beta$};
\node[font=\fontsize{16}{20}\selectfont,text=axcol,rotate=90] at (0.36,8.92) {$C_p$};
\node[font=\fontsize{16}{20}\selectfont,text=axcol] at (20.64,1.73) {$\lambda$};
\node[font=\fontsize{16}{20}\selectfont,text=axcol] at (28.36,1.19) {$\beta$};
\node[font=\fontsize{16}{20}\selectfont,text=axcol,rotate=90] at (17.13,9.17) {$C_t$};
\end{tikzpicture}
\end{document}
